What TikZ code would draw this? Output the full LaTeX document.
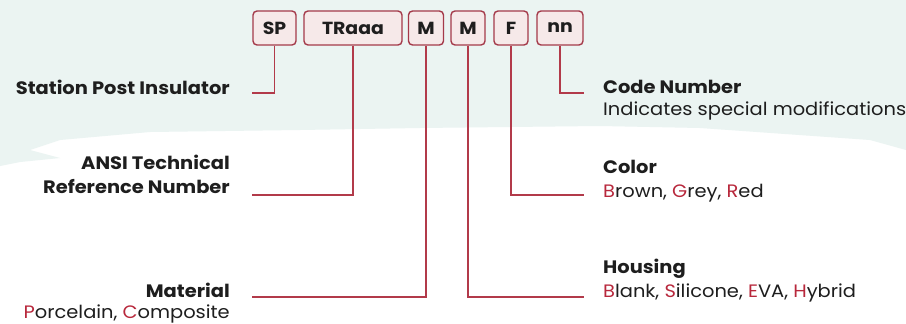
\documentclass[tikz,border=0pt]{standalone}
\usepackage{fontspec}
\setmainfont{Poppins}[FakeStretch=1.08]
\definecolor{mint}{HTML}{EBF4F2}
\definecolor{boxfill}{HTML}{F6E9E9}
\definecolor{boxline}{HTML}{A43A4A}
\definecolor{conline}{HTML}{B23A4A}
\definecolor{redletter}{HTML}{B8283C}
\definecolor{ink}{HTML}{1E1E1E}
\newcommand{\rl}[1]{\textcolor{redletter}{#1}}
\begin{document}
\begin{tikzpicture}[x=1pt,y=-1pt,
  codebox/.style={draw=boxline,line width=1.4pt,fill=boxfill,rounded corners=4pt,
     minimum height=34pt,inner sep=0pt,font=\fontsize{17.5}{20}\selectfont\bfseries,text=ink},
  conn/.style={draw=conline,line width=1.2pt},
  lbl/.style={inner sep=0pt,font=\fontsize{18}{21}\selectfont\bfseries,text=ink},
  desc/.style={inner sep=0pt,font=\fontsize{18}{21}\selectfont,text=ink}]
\useasboundingbox (0,0) rectangle (906,324);
\fill[white] (0,0) rectangle (906,324);
\fill[mint] (0,0) -- (906,0) -- (906,150) -- (870,140) -- (700,128) -- (600,126)
  -- (420,128) -- (300,130) -- (150,132) -- (60,140) -- (30,150) -- (60,158) -- (20,162) -- (0,166) -- cycle;
% code boxes
\node[codebox,minimum width=43pt] (sp) at (274.5,28) {SP};
\node[codebox,minimum width=98pt] (tr) at (353,28) {TRaaa};
\node[codebox,minimum width=35pt] (m1) at (426,28) {M};
\node[codebox,minimum width=34pt] (m2) at (468,28) {M};
\node[codebox,minimum width=34pt] (f) at (511,28) {F};
\node[codebox,minimum width=46pt] (nn) at (560,28) {nn};
% connector end points
\coordinate (spE) at (252,93);
\coordinate (trE) at (252,195);
\coordinate (m1E) at (252,297);
\coordinate (m2E) at (584,297);
\coordinate (fE) at (584,195);
\coordinate (nnE) at (584,93);
\draw[conn] (sp.south) |- (spE);
\draw[conn] (tr.south) |- (trE);
\draw[conn] (m1.south) |- (m1E);
\draw[conn] (m2.south) |- (m2E);
\draw[conn] (f.south) |- (fE);
\draw[conn] (nn.south) |- (nnE);
% left labels
\node[lbl,anchor=base east] (spl) at (230,94) {Station Post Insulator};
\node[lbl,anchor=base east] (trl1) at (230,169) {ANSI Technical};
\node[lbl,anchor=base east] (trl2) at (230,193) {Reference Number};
\node[lbl,anchor=base east] (m1l) at (230,297) {Material};
\node[desc,anchor=base east] (m1d) at (230,318) {\rl{P}orcelain, \rl{C}omposite};
% right labels
\node[lbl,anchor=base west] (nnl) at (603,93) {Code Number};
\node[desc,anchor=base west] (nnd) at (603,115) {Indicates special modifications};
\node[lbl,anchor=base west] (fl) at (603,173) {Color};
\node[desc,anchor=base west] (fd) at (603,197) {\rl{B}rown, \rl{G}rey, \rl{R}ed};
\node[lbl,anchor=base west] (m2l) at (603,273) {Housing};
\node[desc,anchor=base west] (m2d) at (603,297) {\rl{B}lank, \rl{S}ilicone, \rl{E}VA, \rl{H}ybrid};
\end{tikzpicture}
\end{document}
